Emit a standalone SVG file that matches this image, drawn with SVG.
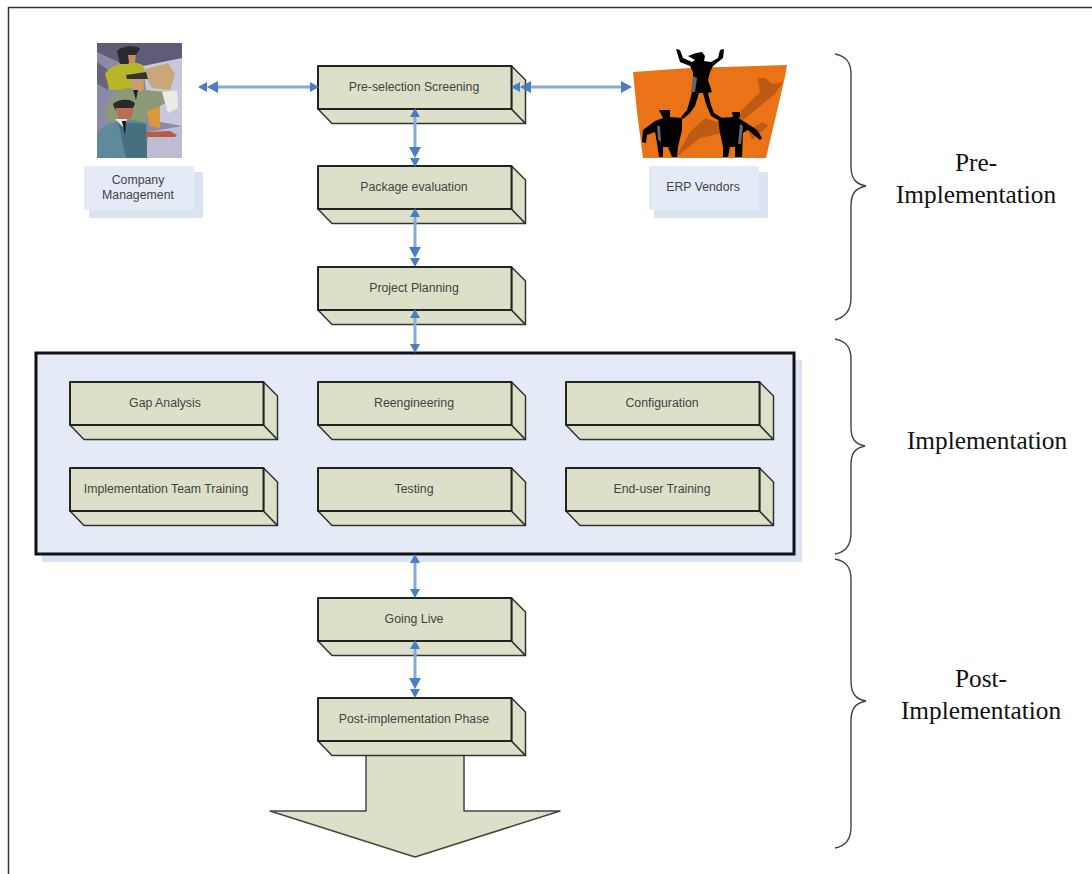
<svg xmlns="http://www.w3.org/2000/svg" width="1092" height="874" viewBox="0 0 1092 874">
<style>
.bf{fill:#dde0c8;stroke:#222;stroke-width:2;stroke-linejoin:round}
.sd{fill:#dde0c8;stroke:#333;stroke-width:1.500;stroke-linejoin:round}
.t{font-family:"Liberation Sans",Arial,sans-serif;font-size:12.300px;fill:#444;text-anchor:middle}
.s{font-family:"Liberation Serif","Times New Roman",serif;font-size:25.300px;fill:#111;text-anchor:middle}
.c{stroke:#86a9dc;stroke-width:3;fill:none}
.h{fill:#4a7dc4}
.br{fill:none;stroke:#444;stroke-width:1.400}
</style>
<defs>
<g id="box">
<path class="sd" d="M0 43H193.500L207.500 57.500H14Z"/>
<path class="sd" d="M193.500 0L207.500 14V57.500L193.500 43Z"/>
<path class="bf" d="M0 0H193.500V43H0Z"/>
</g>
</defs>
<rect width="1092" height="874" fill="#fff"/>
<path d="M8.500 874V7.500H1092" fill="none" stroke="#333" stroke-width="1.500"/>

<g id="implementation-panel">
<rect x="42" y="360" width="760" height="202" fill="#dae3f1"/>
<rect x="36" y="353" width="758" height="201" fill="#e5ebf6" stroke="#111" stroke-width="3"/>
</g>

<g id="company-management">
<rect x="97" y="43" width="85" height="115" fill="#8d8aa8"/>
<path d="M97 43H182V60L140 72L97 52Z" fill="#5f5c78"/>
<path d="M143 66L182 58V126L150 120Z" fill="#c8c7dc"/>
<path d="M148 132L182 126V158H146Z" fill="#bdbcd2"/>
<path d="M97 62L108 70L108 90L97 84Z" fill="#67647f"/>
<path d="M142 70L168 63L175 74L170 90L152 88Z" fill="#c8a878"/>
<path d="M105 74C110 64 132 59 143 65L144 90L110 90Z" fill="#b7b52a"/>
<path d="M117 51C122 45 138 45 140 49L134 58L128 64H120Z" fill="#2a2a2a"/>
<path d="M128 55H136L135 63H129Z" fill="#c88a60"/>
<path d="M145 106H160V128L150 126Z" fill="#d99a3c"/>
<path d="M105 117C106 98 118 88 130 88L146 90L165 92L177 90V97L160 106L146 112L146 122H112Z" fill="#8b9b78"/>
<path d="M162 92L177 90L178 108L168 113Z" fill="#ecece6"/>
<path d="M126 75L146 72L148 79H127Z" fill="#333"/>
<path d="M131 79H143L141 91H133Z" fill="#d09878"/>
<path d="M133 90H138L136 100Z" fill="#222"/>
<path d="M97 134C104 120 135 116 147 124V158H97Z" fill="#5f8a9c"/>
<path d="M118 122L146 124L147 158H126Z" fill="#47707f"/>
<path d="M146 132L170 131L177 135L175 137L146 137Z" fill="#b85d45"/>
<path d="M113 104C118 99 132 98 135 104L132 110H115Z" fill="#2a2a2a"/>
<path d="M115 108H134L131 119H119Z" fill="#b86f55"/>
<path d="M115 119H127L124 128Z" fill="#dfe8ee"/>
<path d="M122 121H126L125 135Z" fill="#111"/>
</g>
<g id="company-label">
<rect x="89" y="172" width="114" height="46" fill="#dae3f1"/>
<rect x="84" y="166" width="110" height="44" fill="#e5ebf6"/>
<text class="t" x="138" y="184">Company</text>
<text class="t" x="138" y="199">Management</text>
</g>

<g id="erp-vendors">
<path d="M633 72L690 68L787 65L785 77L766 158L643 158L637 112Z" fill="#ea7217"/>
<path d="M676 157L690 132L705 118L722 124L742 110L760 92L757 78L765 78L772 84L783 82L775 94L748 116L726 132L700 138Z" fill="#bd5b14"/>
<path d="M748 130L763 122L768 126L752 140Z" fill="#bd5b14"/>
<g fill="#000">
<path d="M676 49L680 50L683 58L692 62L695 60L688 56L696 53L702 52L705 56L704 61L711 62L718 58L720 50L724 49L723 58L713 66L710 72L708 80L712 92L708 93L711 105L714 113L722 118L720 121L711 116L706 104L703 93L699 93L695 106L690 113L683 119L681 117L687 110L690 100L692 92L693 80L693 72L690 66L680 62Z"/>
<path d="M642 142L643 130L655 121L663 118L659 110L670 110L670 117L682 118V130L678 147L677 157H672L668 147H663V157H659L657 143L655 132L647 135L646 143Z"/>
<path d="M762 138L757 130L745 122L738 118L740 117L740 112H732L733 117L718 118L720 133L723 147V157H728L730 147H735V157H742L743 133L748 130L760 140Z"/>
</g>
<path d="M693 76L697 78L695 92L691 92Z" fill="#666"/>
<path d="M657 126L660 126L661 142L658 140Z" fill="#666"/>
<path d="M740 124L743 126L741 144L738 144Z" fill="#666"/>
</g>
<g id="erp-label">
<rect x="654" y="172" width="114" height="46" fill="#dae3f1"/>
<rect x="649" y="166" width="110" height="44" fill="#e5ebf6"/>
<text class="t" x="703" y="191">ERP Vendors</text>
</g>

<g id="pre-selection-screening"><use href="#box" x="318" y="66"/><text class="t" x="414" y="91">Pre-selection Screening</text></g>
<g id="package-evaluation"><use href="#box" x="318" y="166"/><text class="t" x="414" y="191">Package evaluation</text></g>
<g id="project-planning"><use href="#box" x="318" y="267"/><text class="t" x="414" y="292">Project Planning</text></g>
<g id="gap-analysis"><use href="#box" x="70" y="382"/><text class="t" x="165" y="407">Gap Analysis</text></g>
<g id="reengineering"><use href="#box" x="318" y="382"/><text class="t" x="414" y="407">Reengineering</text></g>
<g id="configuration"><use href="#box" x="566" y="382"/><text class="t" x="662" y="407">Configuration</text></g>
<g id="implementation-team-training"><use href="#box" x="70" y="468"/><text class="t" x="166" y="493">Implementation Team Training</text></g>
<g id="testing"><use href="#box" x="318" y="468"/><text class="t" x="414" y="493">Testing</text></g>
<g id="end-user-training"><use href="#box" x="566" y="468"/><text class="t" x="662" y="493">End-user Training</text></g>
<g id="going-live"><use href="#box" x="318" y="598"/><text class="t" x="414" y="623">Going Live</text></g>
<g id="down-arrow"><path d="M366 755H464V811H560L415 857L270 811H366Z" fill="#dde0c8" stroke="#444" stroke-width="1.500" stroke-linejoin="round"/></g>
<g id="post-implementation-phase"><use href="#box" x="318" y="698"/><text class="t" x="414" y="723">Post-implementation Phase</text></g>

<g id="connectors">
<path class="c" d="M214 87H312M528 87H622M415 115V150M415 215V250M415 316V347M415 560V592M415 648V682"/>
<path class="h" d="M198 87l9-5v10zM207 87l11-6v12zM319 87l-9-5v10z"/>
<path class="h" d="M511 87l9-5v10zM520 87l11-6v12zM632 87l-11-6v12z"/>
<path class="h" d="M415 108l-5 9h10zM415 167l-5-9h10zM415 158l-6-11h12z"/>
<path class="h" d="M415 208l-5 9h10zM415 267l-5-9h10zM415 258l-6-11h12z"/>
<path class="h" d="M415 309l-5 9h10zM415 353l-5-9h10z"/>
<path class="h" d="M415 554l-5 9h10zM415 598l-5-9h10z"/>
<path class="h" d="M415 640l-5 9h10zM415 698l-5-9h10zM415 689l-6-11h12z"/>
</g>

<g id="brackets">
<path class="br" d="M835 54C846 56 851 62 851 74V166C851 178 855 184 866 186C855 188 851 194 851 206V298C851 310 846 317 835 320"/>
<path class="br" d="M835 339C846 341 851 347 851 359V427C851 439 855 444 865 446C855 448 851 453 851 465V533C851 545 846 552 835 554"/>
<path class="br" d="M835 559C846 561 851 567 851 579V681C851 693 855 699 866 701C855 703 851 709 851 721V827C851 839 846 846 835 848"/>
</g>
<g id="phase-labels">
<text class="s" x="976" y="171">Pre-</text>
<text class="s" x="976" y="203">Implementation</text>
<text class="s" x="987" y="449">Implementation</text>
<text class="s" x="981" y="687">Post-</text>
<text class="s" x="981" y="719">Implementation</text>
</g>
</svg>
